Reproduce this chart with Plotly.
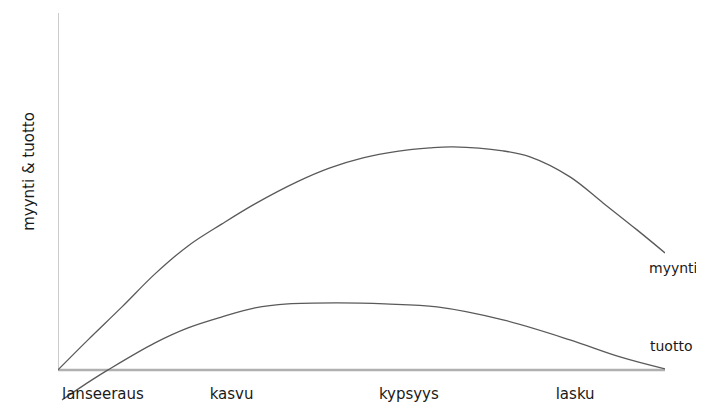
import plotly.graph_objects as go

# Data (arbitrary units, x 0-100, y 0-100)
myynti_x = [0, 4.94, 10.54, 15.98, 21.42, 27.02, 32.45, 39.37, 44.81, 50.25, 55.85, 61.28, 65.07, 73.31, 77.76, 84.35, 89.79, 95.39, 100]
myynti_y = [0, 8.41, 17.65, 26.90, 34.74, 40.91, 46.51, 52.68, 56.60, 59.40, 61.22, 62.20, 62.48, 61.36, 59.68, 54.08, 46.79, 39.23, 32.78]
tuotto_x = [0.66, 5.60, 8.24, 15.98, 21.42, 27.02, 32.45, 37.89, 46.13, 53.87, 62.44, 73.31, 84.35, 92.59, 100]
tuotto_y = [-8.41, -2.80, 0, 7.57, 11.77, 14.85, 17.37, 18.49, 18.77, 18.49, 17.65, 14.01, 8.41, 3.64, 0.28]
stages = ["lanseeraus", "kasvu", "kypsyys", "lasku"]
stage_pos = [7.4, 28.6, 57.8, 85.2]
series_names = ["myynti", "tuotto"]
y_title = "myynti & tuotto"

FONT = "DejaVu Sans"
LINE = "#5a5a5a"
TEXT = "#1a1a1a"

fig = go.Figure()
for name, xs, ys in [(series_names[0], myynti_x, myynti_y), (series_names[1], tuotto_x, tuotto_y)]:
    fig.add_trace(go.Scatter(x=xs, y=ys, mode="lines", name=name,
                             line=dict(color=LINE, width=1.3, shape="spline", smoothing=1.0),
                             showlegend=False, hoverinfo="skip"))

# series labels at line ends
fig.add_annotation(x=myynti_x[-1], y=myynti_y[-1], text=series_names[0], showarrow=False,
                   xanchor="left", yanchor="middle", xshift=-18, yshift=-15,
                   font=dict(family=FONT, size=14, color=TEXT))
fig.add_annotation(x=tuotto_x[-1], y=tuotto_y[-1], text=series_names[1], showarrow=False,
                   xanchor="left", yanchor="middle", xshift=-17, yshift=23,
                   font=dict(family=FONT, size=14, color=TEXT))

# y-axis title
fig.add_annotation(x=0, y=55.5, xref="x", yref="y", text=y_title, showarrow=False,
                   textangle=-90, xanchor="center", yanchor="middle", xshift=-29,
                   font=dict(family=FONT, size=15, color=TEXT))

# axis lines
fig.add_shape(type="line", xref="x", yref="y", x0=0, y0=0, x1=100, y1=0,
              line=dict(color="#b0b0b0", width=2.5), layer="below")
fig.add_shape(type="line", xref="x", yref="y", x0=0, y0=0, x1=0, y1=100,
              line=dict(color="#9a9a9a", width=1), layer="below")

# page body has an 8px margin, so the figure is sized 8px smaller
fig.update_layout(
    width=696, height=395,
    margin=dict(l=50, r=39, t=5, b=1),
    plot_bgcolor="white", paper_bgcolor="white",
    xaxis=dict(range=[0, 100], showgrid=False, zeroline=False, showline=False,
               tickmode="array", tickvals=stage_pos, ticktext=stages, ticks="",
               anchor="free", position=9 / 109, ticklabelstandoff=13,
               tickfont=dict(family=FONT, size=15, color=TEXT)),
    yaxis=dict(range=[-9, 100], showgrid=False, zeroline=False, showline=False,
               showticklabels=False, ticks=""),
)

fig.write_html("out.html")
